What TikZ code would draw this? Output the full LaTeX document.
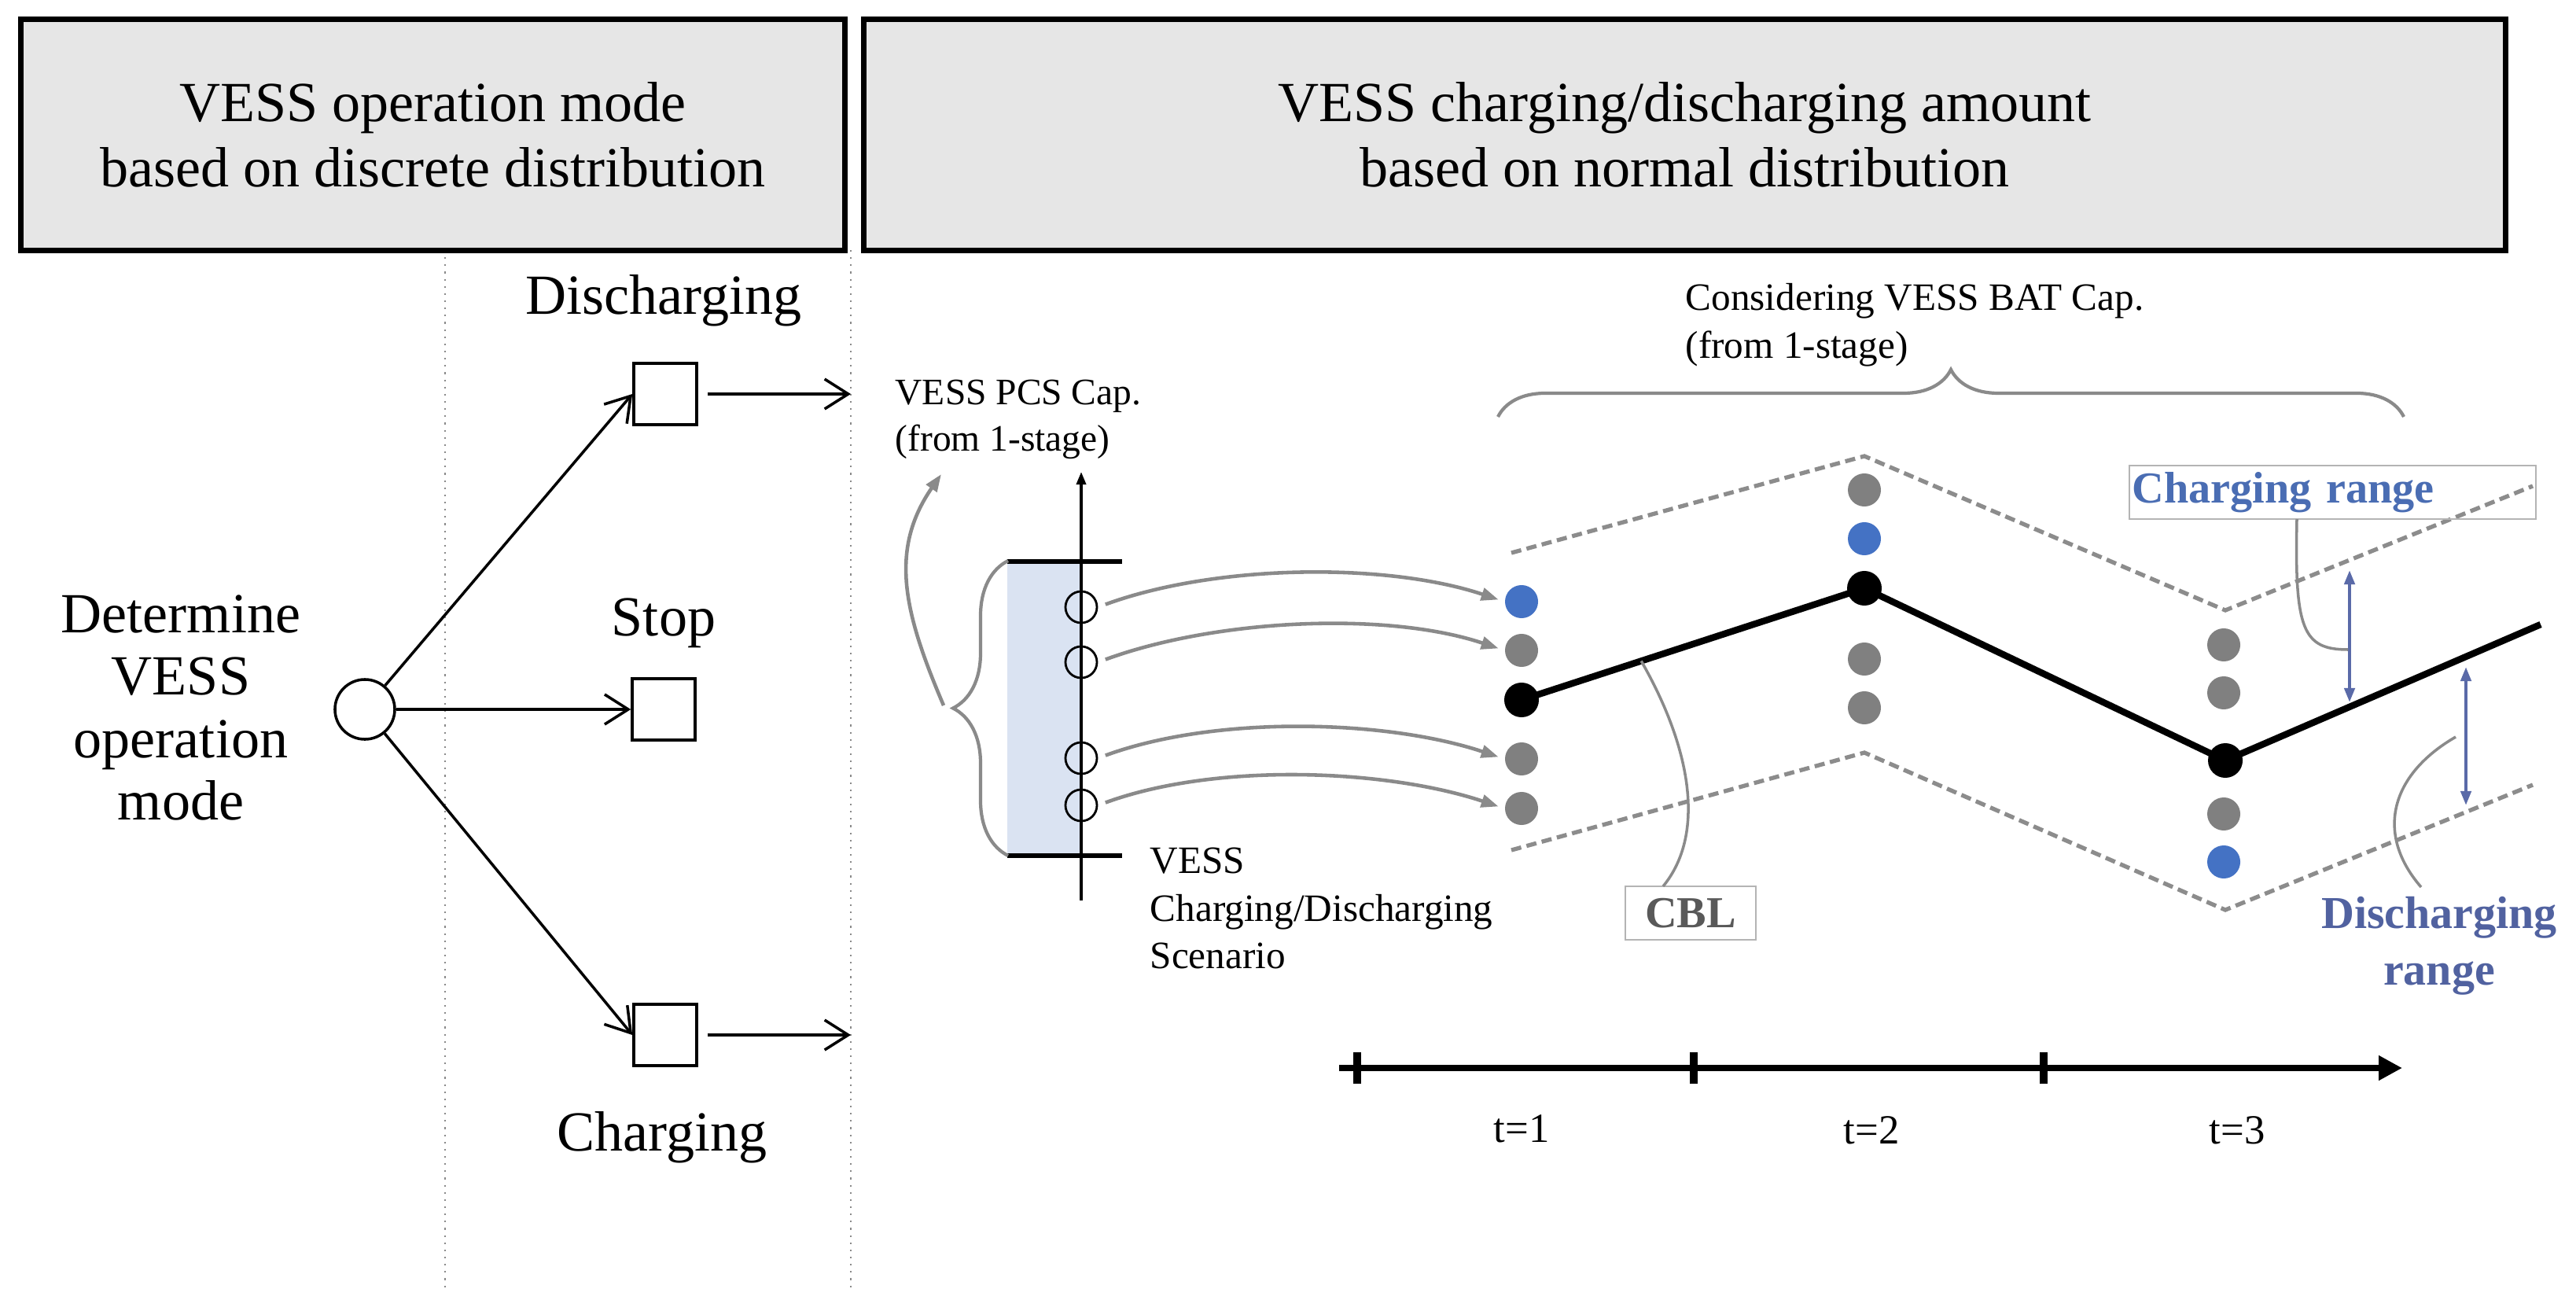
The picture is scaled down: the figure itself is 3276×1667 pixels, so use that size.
\documentclass[tikz,border=0pt]{standalone}
\usepackage{fontspec}
\setmainfont{Liberation Serif}
\usetikzlibrary{arrows.meta,decorations.pathreplacing,calc}
\definecolor{hdrgray}{HTML}{E6E6E6}
\definecolor{dotgray}{HTML}{808080}
\definecolor{dotblue}{HTML}{4472C4}
\definecolor{linegray}{HTML}{8A8A8A}
\definecolor{dashgray}{HTML}{8C8C8C}
\definecolor{boxblue}{HTML}{DAE3F2}
\definecolor{rangeblue}{HTML}{5A6AA8}
\definecolor{chtext}{HTML}{4A6DB3}
\definecolor{dchtext}{HTML}{5162A0}
\definecolor{cbltext}{HTML}{595959}
\definecolor{lightbox}{HTML}{B4B4B4}
\begin{document}
\begin{tikzpicture}[x=0.01cm,y=-0.01cm,
  hdr/.style={draw=black,line width=2pt,fill=hdrgray,align=center,font=\fontsize{20.5}{23.6}\selectfont,inner sep=0},
  big/.style={font=\fontsize{20.5}{22.5}\selectfont,inner sep=0,align=center},
  lbl/.style={font=\fontsize{14}{17.3}\selectfont,inner sep=0,align=left},
  sqbox/.style={draw,line width=1pt,minimum width=0.8cm,minimum height=0.78cm,inner sep=0},
  arr/.style={line width=1pt,-{Straight Barb[length=0.3cm,width=0.38cm]}},
  gdot/.style={circle,fill=dotgray,minimum size=0.42cm,inner sep=0},
  bdot/.style={circle,fill=dotblue,minimum size=0.42cm,inner sep=0},
  kdot/.style={circle,fill=black,minimum size=0.44cm,inner sep=0},
  ocirc/.style={circle,draw,line width=0.8pt,minimum size=0.40cm,inner sep=0},
  garr/.style={draw=linegray,line width=1.3pt,-{Triangle[length=0.22cm,width=0.16cm]}},
  dsh/.style={draw=dashgray,line width=1.5pt,dash pattern=on 0.13cm off 0.07cm},
  leader/.style={draw=linegray,line width=1pt},
  rng/.style={draw=rangeblue,line width=1.2pt,{Triangle[length=0.18cm,width=0.13cm]}-{Triangle[length=0.18cm,width=0.13cm]}},
  gbrace/.style={draw=linegray,line width=1.2pt,decorate},
]
\useasboundingbox (0,0) rectangle (3276,1667);

% dividers
\draw[dotted,linegray,line width=0.6pt] (566,318) -- (566,1640);
\draw[dotted,linegray,line width=0.6pt] (1082,318) -- (1082,1640);

% headers
\node[hdr,minimum width=10.47cm,minimum height=2.93cm] (h1) at (550.5,171.5) {VESS operation mode\\based on discrete distribution};
\node[hdr,minimum width=20.87cm,minimum height=2.93cm] (h2) at (2142.5,171.5) {VESS charging/discharging amount\\based on normal distribution};

% left panel
\node[big] (det) at (230,900) {Determine\\VESS\\operation\\mode};
\node[circle,draw,line width=1pt,minimum size=0.76cm,inner sep=0] (c0) at (464,902) {};
\node[sqbox] (sqd) at (846,501) {};
\node[sqbox] (sqs) at (844,902) {};
\node[sqbox] (sqc) at (846,1316) {};
\node[big] (ld) at (844,382) {Discharging};
\node[big] (ls) at (844,792) {Stop};
\node[big] (lc) at (842,1446) {Charging};
\draw[arr] (c0) -- (sqd.west);
\draw[arr] (c0) -- (sqs.west);
\draw[arr] (c0) -- (sqc.west);
\coordinate (ed) at (1082,501);
\coordinate (ec) at (1082,1316);
\draw[arr,shorten <=0.12cm] (sqd.east) -- (ed);
\draw[arr,shorten <=0.12cm] (sqc.east) -- (ec);

% PCS scenario block
\node[font=\fontsize{13.5}{16.8}\selectfont,inner sep=0,align=left,anchor=west] (pcs) at (1138,533) {VESS PCS Cap.\\(from 1-stage)};
\node[fill=boxblue,minimum width=0.94cm,minimum height=3.73cm,inner sep=0] (bb) at (1328,901.5) {};
\coordinate (bar1a) at (1281,714); \coordinate (bar1b) at (1427,714);
\coordinate (bar2a) at (1281,1088); \coordinate (bar2b) at (1427,1088);
\draw[line width=1.9pt] (bar1a) -- (bar1b);
\draw[line width=1.9pt] (bar2a) -- (bar2b);
\coordinate (ax0) at (1375,1145); \coordinate (ax1) at (1375,600);
\draw[line width=1pt,-{Triangle[length=0.16cm,width=0.12cm]}] (ax0) -- (ax1);
\node[ocirc] (o1) at (1375,772) {};
\node[ocirc] (o2) at (1375,842) {};
\node[ocirc] (o3) at (1375,964) {};
\node[ocirc] (o4) at (1375,1024) {};
\node[lbl,anchor=west] (scn) at (1462,1155) {VESS\\Charging/Discharging\\Scenario};
\draw[gbrace,decoration={brace,amplitude=0.7cm}] (1282,1088) -- (1282,713);
\coordinate (bt) at (1200,897); \coordinate (pcsa) at (1197,603);
\draw[garr] (bt) .. controls (1150,780) and (1130,700) .. (pcsa);

% dots
\node[bdot] (a1) at (1935,765) {};
\node[gdot] (a2) at (1935,827) {};
\node[kdot] (a3) at (1935,890) {};
\node[gdot] (a4) at (1935,965) {};
\node[gdot] (a5) at (1935,1028) {};
\node[gdot] (b1) at (2371,623) {};
\node[bdot] (b2) at (2371,685) {};
\node[kdot] (b3) at (2371,748) {};
\node[gdot] (b4) at (2371,838) {};
\node[gdot] (b5) at (2371,900) {};
\node[gdot] (c1) at (2828,820) {};
\node[gdot] (c2) at (2828,881) {};
\node[kdot] (c3) at (2830,967) {};
\node[gdot] (c4) at (2828,1035) {};
\node[bdot] (c5) at (2828,1096) {};

% scenario arrows
\draw[garr,shorten <=0.1cm,shorten >=0.08cm] (o1.east) .. controls +(150,-55) and +(-150,-50) .. (a1.west);
\draw[garr,shorten <=0.1cm,shorten >=0.08cm] (o2.east) .. controls +(150,-55) and +(-150,-50) .. (a2.west);
\draw[garr,shorten <=0.1cm,shorten >=0.08cm] (o3.east) .. controls +(150,-55) and +(-150,-50) .. (a4.west);
\draw[garr,shorten <=0.1cm,shorten >=0.08cm] (o4.east) .. controls +(150,-55) and +(-150,-50) .. (a5.west);

% dashed bounds
\coordinate (u1) at (1922,703); \coordinate (u2) at (2371,580);
\coordinate (u3) at (2830,776); \coordinate (u4) at (3221,618);
\coordinate (l1) at (1922,1081); \coordinate (l2) at (2371,957);
\coordinate (l3) at (2830,1157); \coordinate (l4) at (3221,998);
\draw[dsh] (u1) -- (u2) -- (u3) -- (u4);
\draw[dsh] (l1) -- (l2) -- (l3) -- (l4);

% BAT brace
\draw[gbrace,decoration={brace,amplitude=0.6cm}] (1905,530) -- (3057,530);
\node[lbl,anchor=west] (bat) at (2143,413) {Considering VESS BAT Cap.\\(from 1-stage)};

% CBL line
\coordinate (kend) at (3231,794);
\draw[line width=2.4pt,line join=round] (a3.center) -- (b3.center) -- (c3.center) -- (kend);

% ranges
\coordinate (cr0) at (2988,893); \coordinate (cr1) at (2988,725);
\coordinate (dr0) at (3136,848); \coordinate (dr1) at (3136,1024);
\draw[rng] (cr0) -- (cr1);
\draw[rng] (dr0) -- (dr1);
\node[draw=lightbox,line width=0.6pt,text width=5.1cm,align=left,inner xsep=0.03cm,minimum height=0.68cm,inner ysep=0,
      font=\fontsize{16}{19}\selectfont\bfseries,text=chtext] (crb) at (2966.5,626) {Charging range};
\coordinate (cl1) at (2921,660); \coordinate (cl2) at (2986,826);
\draw[leader] (cl1) .. controls (2918,800) and (2928,826) .. (cl2);
\node[font=\fontsize{16.5}{20.5}\selectfont\bfseries,text=dchtext,align=center,inner sep=0] (drt) at (3102,1203) {Discharging\\range};
\coordinate (dl1) at (3123,937); \coordinate (dl2) at (3079,1128);
\draw[leader] (dl1) .. controls (3040,985) and (3020,1060) .. (dl2);

% CBL label
\node[draw=lightbox,line width=0.6pt,minimum width=1.66cm,minimum height=0.68cm,inner sep=0,
      font=\fontsize{16}{19}\selectfont\bfseries,text=cbltext] (cbl) at (2150,1161) {CBL};
\coordinate (cblp) at ($(a3.center)!0.349!(b3.center)$);
\coordinate (cbls) at (2115,1127);
\draw[leader] (cbls) .. controls (2170,1060) and (2150,950) .. (cblp);

% timeline
\coordinate (tl0) at (1703,1358); \coordinate (tl1) at (3055,1358);
\draw[line width=2.2pt,-{Triangle[length=0.3cm,width=0.3cm]}] (tl0) -- (tl1);
\draw[line width=2.6pt] (1726,1338) -- (1726,1378);
\draw[line width=2.6pt] (2154,1338) -- (2154,1378);
\draw[line width=2.6pt] (2599,1338) -- (2599,1378);
\node[font=\fontsize{15}{18}\selectfont,inner sep=0] (t1) at (1935,1435) {t=1};
\node[font=\fontsize{15}{18}\selectfont,inner sep=0] (t2) at (2380,1437) {t=2};
\node[font=\fontsize{15}{18}\selectfont,inner sep=0] (t3) at (2845,1437) {t=3};
\end{tikzpicture}
\end{document}
